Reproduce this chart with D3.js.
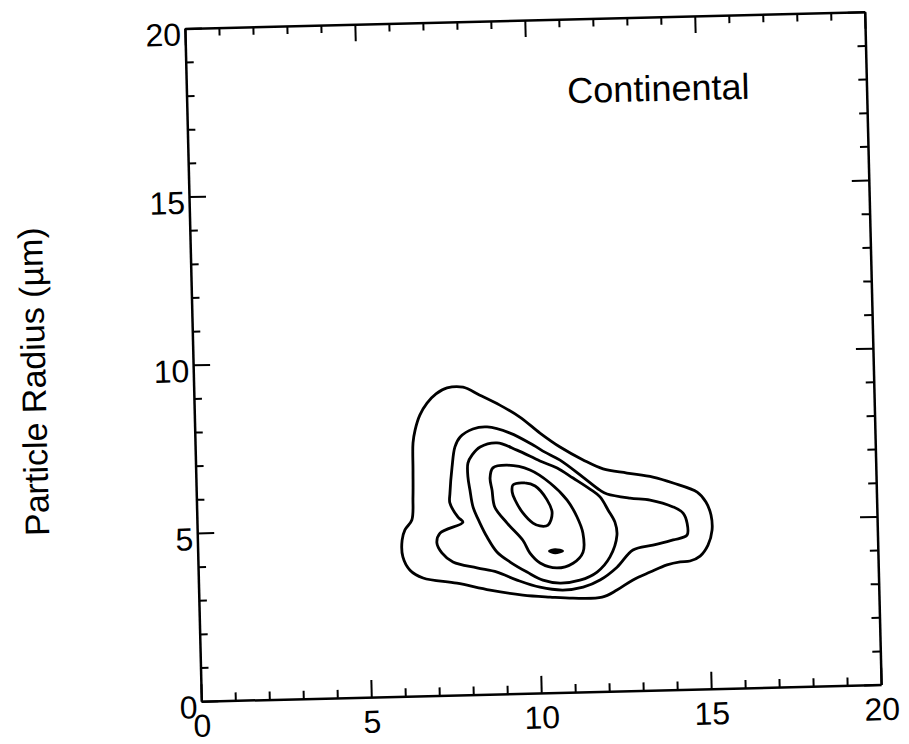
<!DOCTYPE html>
<html>
<head>
<meta charset="utf-8">
<script src="https://cdn.jsdelivr.net/npm/d3@7"></script>
<style>
  body { margin: 0; background: #fff; }
  svg text { font-family: "Liberation Sans", Arial, Helvetica, sans-serif; fill: #000; }
</style>
</head>
<body>
<svg id="main"></svg>
<script>
// axis setup
var xDomain = [0, 20];
var yDomain = [0, 20];
var allTicks = d3.range(0, 21, 1);
var majorTicks = [0, 5, 10, 15, 20];
var yTitle = "Particle Radius (µm)";
var panelName = "Continental";
var panelNameAt = [11.2, 17.5];

// contour lines, outer to inner, [particle x, radius]
var contour1 = [[6.39,6.71],[6.41,7.52],[6.48,7.90],[6.63,8.34],[6.85,8.69],[7.12,8.96],[7.45,9.13],[7.92,9.14],[8.41,8.89],[8.99,8.58],[9.57,8.21],[10.15,7.72],[10.73,7.29],[11.40,6.89],[11.98,6.61],[12.68,6.47],[13.44,6.33],[14.03,6.14],[14.73,5.85],[14.98,5.55],[15.12,5.16],[15.14,4.71],[15.01,4.27],[14.77,3.95],[14.47,3.81],[14.18,3.79],[13.79,3.71],[13.29,3.51],[12.78,3.29],[12.30,3.00],[11.86,2.80],[11.00,2.79],[10.33,2.84],[9.53,2.92],[8.57,3.09],[7.60,3.32],[6.61,3.50],[6.23,3.74],[6.03,4.14],[6.02,4.64],[6.11,4.94],[6.32,5.23],[6.37,5.91]];
var contour2 = [[7.46,6.00],[7.54,6.77],[7.64,7.37],[7.80,7.66],[8.18,7.89],[8.60,7.94],[9.27,7.74],[9.94,7.37],[10.28,7.15],[10.72,6.90],[11.38,6.38],[11.87,5.98],[12.08,5.86],[12.75,5.72],[13.34,5.65],[14.01,5.43],[14.30,5.24],[14.41,4.94],[14.40,4.58],[13.99,4.45],[13.39,4.31],[12.80,4.18],[12.32,3.68],[11.81,3.31],[11.31,3.11],[10.71,3.04],[10.04,3.14],[9.37,3.37],[8.79,3.62],[8.20,3.76],[7.50,3.95],[7.18,4.23],[7.04,4.53],[7.14,4.82],[7.82,5.13],[7.68,5.28],[7.45,5.71]];
var contour3 = [[8.05,6.08],[8.00,6.47],[8.01,6.88],[8.14,7.12],[8.38,7.35],[8.88,7.46],[9.46,7.23],[10.13,6.89],[10.63,6.67],[11.09,6.36],[11.58,6.02],[11.87,5.78],[12.10,5.38],[12.29,5.02],[12.34,4.63],[12.12,3.99],[11.73,3.55],[11.22,3.32],[10.63,3.25],[10.13,3.35],[9.67,3.60],[9.18,3.91],[8.80,4.22],[8.52,4.67],[8.32,5.09],[8.13,5.57]];
var contour4 = [[8.70,6.06],[8.65,6.42],[8.74,6.72],[9.16,6.79],[9.83,6.63],[10.41,6.23],[10.90,5.71],[11.18,5.20],[11.34,4.72],[11.33,4.15],[11.03,3.83],[10.55,3.70],[10.06,3.86],[9.77,4.16],[9.57,4.55],[9.12,5.07],[8.77,5.55]];
var contour5 = [[9.32,6.20],[9.67,6.25],[9.97,6.15],[10.31,5.73],[10.45,5.34],[10.32,4.98],[10.08,4.96],[9.88,5.05],[9.59,5.36],[9.37,5.75],[9.29,5.99]];
var contour6 = [[10.33,4.21],[10.51,4.26],[10.74,4.20],[10.51,4.14]];

var margin = {top: 20, right: 36, bottom: 51, left: 193},
    width = 909 - margin.left - margin.right,
    height = 744 - margin.top - margin.bottom;

var svg = d3.select("#main")
    .attr("width", 909)
    .attr("height", 744);

// the scanned figure is tilted a little
var tilt = svg.append("g")
    .attr("transform", "rotate(-1.4," + (margin.left + width / 2) + "," + (margin.top + height / 2) + ")");

var g = tilt.append("g")
    .attr("transform", "translate(" + margin.left + "," + margin.top + ")");

var x = d3.scaleLinear().domain(xDomain).range([0, width]);
var y = d3.scaleLinear().domain(yDomain).range([height, 0]);

var fmt = function(d) { return majorTicks.indexOf(d) >= 0 ? d : ""; };

function styleAxis(sel, attr, sign) {
    sel.select(".domain").attr("stroke", "#000").attr("stroke-width", 2.5);
    sel.selectAll(".tick line").attr("stroke", "#000").attr("stroke-width", 2);
    sel.selectAll(".tick")
        .filter(function(d) { return majorTicks.indexOf(d) >= 0; })
        .select("line")
        .attr(attr, sign * 17);
    sel.selectAll(".tick text")
        .attr("font-size", 32)
        .attr("fill", "#000");
}

var xAxis = g.append("g")
    .attr("transform", "translate(0," + height + ")")
    .call(d3.axisBottom(x).tickValues(allTicks).tickSizeInner(-8).tickSizeOuter(0).tickPadding(13).tickFormat(fmt));
styleAxis(xAxis, "y2", -1);

var yAxis = g.append("g")
    .call(d3.axisLeft(y).tickValues(allTicks).tickSizeInner(-8).tickSizeOuter(0).tickPadding(4).tickFormat(fmt));
styleAxis(yAxis, "x2", 1);
yAxis.selectAll(".tick text").attr("dy", "0.52em");

var topAxis = g.append("g")
    .call(d3.axisTop(x).tickValues(allTicks).tickSizeInner(-8).tickSizeOuter(0).tickFormat(""));
styleAxis(topAxis, "y2", 1);

var rightAxis = g.append("g")
    .attr("transform", "translate(" + width + ",0)")
    .call(d3.axisRight(y).tickValues(allTicks).tickSizeInner(-8).tickSizeOuter(0).tickFormat(""));
styleAxis(rightAxis, "x2", -1);

// contours
var line = d3.line()
    .x(function(d) { return x(d[0]); })
    .y(function(d) { return y(d[1]); })
    .curve(d3.curveCatmullRomClosed.alpha(0.5));

g.append("g")
    .selectAll("path")
    .data([contour1, contour2, contour3, contour4, contour5])
    .enter()
    .append("path")
      .attr("d", line)
      .attr("fill", "none")
      .attr("stroke", "#000")
      .attr("stroke-width", 2.8)
      .attr("stroke-linejoin", "round");

g.append("path")
    .attr("d", line(contour6))
    .attr("fill", "#000")
    .attr("stroke", "#000")
    .attr("stroke-width", 2);

// labels
g.append("text")
    .attr("x", x(panelNameAt[0]))
    .attr("y", y(panelNameAt[1]))
    .attr("font-size", 36)
    .text(panelName);

g.append("text")
    .attr("transform", "translate(-160," + (height / 2 + 13) + ") rotate(-90)")
    .attr("text-anchor", "middle")
    .attr("dominant-baseline", "central")
    .attr("font-size", 34)
    .text(yTitle);
</script>
</body>
</html>
